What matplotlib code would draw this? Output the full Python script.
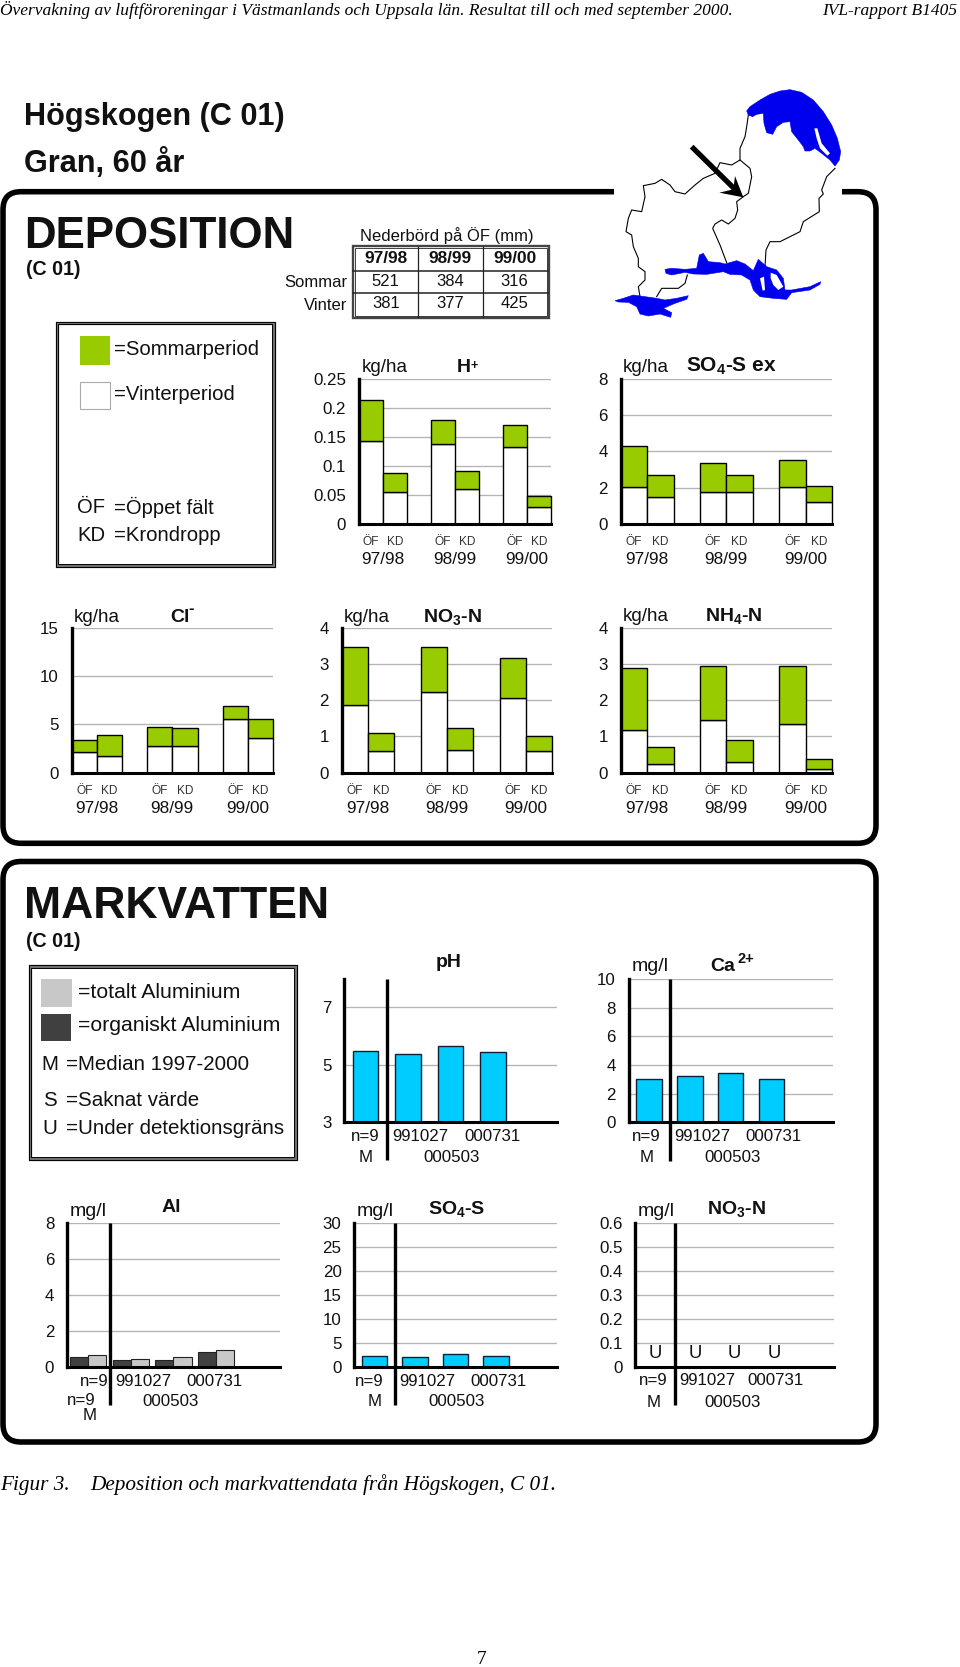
import numpy as np
import matplotlib
matplotlib.use("Agg")
from matplotlib import pyplot as plt
from matplotlib.patches import FancyBboxPatch, Rectangle, Polygon
from matplotlib.transforms import blended_transform_factory

plt.rcParams['font.family'] = ['Liberation Sans', 'DejaVu Sans']
plt.rcParams['mathtext.default'] = 'regular'

# deposition, kg/ha: OF,KD per winter
years = ['97/98', '98/99', '99/00']
h_winter = [0.143, 0.055, 0.137, 0.060, 0.132, 0.030]
h_summer = [0.071, 0.033, 0.042, 0.031, 0.038, 0.019]
so4ex_winter = [2.02, 1.50, 1.74, 1.74, 2.02, 1.23]
so4ex_summer = [2.27, 1.22, 1.60, 0.98, 1.50, 0.88]
cl_winter = [2.10, 1.76, 2.80, 2.76, 5.55, 3.59]
cl_summer = [1.28, 2.17, 1.96, 1.86, 1.35, 2.00]
no3_winter = [1.88, 0.60, 2.23, 0.63, 2.05, 0.60]
no3_summer = [1.58, 0.50, 1.23, 0.60, 1.11, 0.40]
nh4_winter = [1.17, 0.25, 1.44, 0.30, 1.35, 0.11]
nh4_summer = [1.72, 0.45, 1.49, 0.61, 1.58, 0.28]

# nederbord
prec_summer = [521, 384, 316]
prec_winter = [381, 377, 425]

# markvatten
ph_values = [5.49, 5.38, 5.66, 5.44]
ca_values = [3.00, 3.25, 3.45, 3.00]
al_org = [0.54, 0.37, 0.37, 0.81]
al_tot = [0.65, 0.46, 0.55, 0.92]
so4s_values = [2.40, 2.05, 2.75, 2.40]
no3m_flags = ['U', 'U', 'U', 'U']

GREEN = '#99CC00'
CYAN = '#00CCFF'
BLUE = '#0000EE'
GRID = '#b4b4b4'

fig = plt.figure(figsize=(9.6, 16.67), dpi=100)

# the whole page in pixels, y downwards
page = fig.add_axes([0, 0, 1, 1])
page.set_xlim(0, 960)
page.set_ylim(1667, 0)
page.axis('off')


def add_panel(x0, x1, ytop, y0, xmax, ymin, ymax, ticks, ticklabels):
    ax = fig.add_axes([x0 / 960, 1 - y0 / 1667, (x1 - x0) / 960, (y0 - ytop) / 1667])
    ax.patch.set_alpha(0)
    ax.set_xlim(0, xmax)
    ax.set_ylim(ymin, ymax)
    ax.set_xticks([])
    ax.set_yticks(ticks)
    ax.set_yticklabels(ticklabels, fontsize=12.2, color='#111111')
    ax.tick_params(axis='y', length=0, pad=9.2)
    ax.grid(axis='y', color=GRID, lw=0.95)
    ax.set_axisbelow(True)
    for s in ['top', 'right']:
        ax.spines[s].set_visible(False)
    ax.spines['left'].set_linewidth(2.4)
    ax.spines['bottom'].set_linewidth(2.2)
    ax.spines['left'].set_zorder(5)
    ax.spines['bottom'].set_zorder(5)
    return ax


def deposition(x0, x1, ytop, y0, ymax, ticks, ticklabels, winter, summer, title, title_x, base, title_size=14):
    ax = add_panel(x0, x1, ytop, y0, 8, 0, ymax, ticks, ticklabels)
    x = np.array([0.5, 1.5, 3.5, 4.5, 6.5, 7.5])
    ax.bar(x, winter, 1, color='white', edgecolor='black', lw=1.0, zorder=3, clip_on=False)
    ax.bar(x, summer, 1, bottom=winter, color=GREEN, edgecolor='black', lw=1.0, zorder=3, clip_on=False)
    tr = blended_transform_factory(ax.transData, page.transData)
    for i in range(3):
        ax.text(x[2 * i], y0 + 18, 'ÖF', transform=tr, ha='center', va='center', fontsize=8.6, color='#333333')
        ax.text(x[2 * i + 1], y0 + 18, 'KD', transform=tr, ha='center', va='center', fontsize=8.6, color='#333333')
        ax.text(3 * i + 1, y0 + 35.5, years[i], transform=tr, ha='center', va='center', fontsize=12.4, color='#111111')
    page.text(x0 + 2.5, base, 'kg/ha', fontsize=13.6, va='baseline', color='#111111')
    page.text(title_x, base, title, fontsize=title_size, fontweight='bold', va='baseline', color='#111111')
    return ax


def markvatten(x0, x1, ytop, y0, ymin, ymax, ticks, ticklabels, title, title_x, title_base,
               unit, lab_x, row1, row2, line_end):
    ax = add_panel(x0, x1, ytop, y0, 5, ymin, ymax, ticks, ticklabels)
    tr = blended_transform_factory(ax.transData, page.transData)
    ax.plot([1, 1], [ytop, line_end], transform=tr, color='black', lw=2.4, clip_on=False, zorder=4,
            solid_capstyle='butt')
    if unit:
        page.text(x0 + 2.5, y0 - 151.5, unit, fontsize=14, va='baseline', color='#111111')
    page.text(title_x, title_base, title, fontsize=14, fontweight='bold', va='baseline', color='#111111')
    ax.text(lab_x[0], row1, 'n=9', transform=tr, ha='center', va='center', fontsize=12.2, color='#111111')
    ax.text(lab_x[1], row2, 'M', transform=tr, ha='center', va='center', fontsize=12.2, color='#111111')
    ax.text(lab_x[2], row1, '991027', transform=tr, ha='center', va='center', fontsize=12.2, color='#111111')
    ax.text(lab_x[3], row2, '000503', transform=tr, ha='center', va='center', fontsize=12.2, color='#111111')
    ax.text(lab_x[4], row1, '000731', transform=tr, ha='center', va='center', fontsize=12.2, color='#111111')
    return ax


# ------------- page text -------------
page.text(0, 15, 'Övervakning av luftföroreningar i Västmanlands och Uppsala län. Resultat till och med september 2000.',
          family='Liberation Serif', style='italic', fontsize=12.47, va='baseline')
page.text(957, 15, 'IVL-rapport B1405', family='Liberation Serif', style='italic', fontsize=12.47, ha='right', va='baseline')
page.text(23.5, 125, 'Högskogen (C 01)', fontsize=22.1, fontweight='bold', va='baseline', color='#111111')
page.text(23.5, 171.5, 'Gran, 60 år', fontsize=22.1, fontweight='bold', va='baseline', color='#111111')
page.text(0, 1490, 'Figur 3.', family='Liberation Serif', style='italic', fontsize=15.28, va='baseline')
page.text(90.5, 1490, 'Deposition och markvattendata från Högskogen, C 01.', family='Liberation Serif', style='italic',
          fontsize=15.28, va='baseline')
page.text(481.5, 1664, '7', family='Liberation Serif', fontsize=14, ha='center', va='baseline')

# ------------- frames -------------
for top, bottom in [(191.7, 843.3), (861.5, 1442)]:
    page.add_patch(FancyBboxPatch((3, top), 873, bottom - top, boxstyle='round,pad=0,rounding_size=18',
                                  fc='none', ec='black', lw=4.0))
page.add_patch(Rectangle((614, 184), 228, 15, fc='white', ec='none', zorder=2))

page.text(24.5, 247.5, 'DEPOSITION', fontsize=31.6, fontweight='bold', va='baseline', color='#111111')
page.text(25.5, 275, '(C 01)', fontsize=14.2, fontweight='bold', va='baseline', color='#111111')
page.text(24, 918, 'MARKVATTEN', fontsize=32, fontweight='bold', va='baseline', color='#111111', zorder=3)
page.text(25.5, 947, '(C 01)', fontsize=14.2, fontweight='bold', va='baseline', color='#111111')

# ------------- precipitation table -------------
page.text(359.5, 240.7, 'Nederbörd på ÖF (mm)', fontsize=12, va='baseline', color='#111111')
page.add_patch(Rectangle((352.5, 246), 196, 72, fc='white', ec='#444444', lw=1.7))
page.add_patch(Rectangle((354.5, 248), 192, 68, fc='none', ec='#222222', lw=0.6))
for xl in [418.3, 482.5]:
    page.plot([xl, xl], [247, 317], color='#222222', lw=0.9)
for yl in [270.7, 293.3]:
    page.plot([353, 548], [yl, yl], color='#222222', lw=1.1)
for i, xc in enumerate([385.8, 450.2, 514.5]):
    page.text(xc, 258.5, years[i], fontsize=12.4, fontweight='bold', ha='center', va='center', color='#111111')
    page.text(xc, 281, str(prec_summer[i]), fontsize=12, ha='center', va='center', color='#111111')
    page.text(xc, 303, str(prec_winter[i]), fontsize=12, ha='center', va='center', color='#111111')
page.text(347, 282.5, 'Sommar', fontsize=12, ha='right', va='center', color='#111111')
page.text(347, 305.5, 'Vinter', fontsize=12, ha='right', va='center', color='#111111')

# ------------- legend boxes -------------
for bx, by, bw, bh in [(56.5, 322.5, 217, 243), (29.5, 966, 266, 193)]:
    page.add_patch(Rectangle((bx, by), bw, bh, fc='white', ec='#707070', lw=2.4))
    page.add_patch(Rectangle((bx - 1, by - 1), bw + 2, bh + 2, fc='none', ec='black', lw=0.7))
    page.add_patch(Rectangle((bx + 1.8, by + 1.8), bw - 3.6, bh - 3.6, fc='none', ec='black', lw=0.7))
page.add_patch(Rectangle((80, 336), 30, 28.5, fc=GREEN, ec='none'))
page.add_patch(Rectangle((80, 382), 29.5, 27, fc='white', ec='#aaaaaa', lw=0.8))
page.text(114, 349, '=Sommarperiod', fontsize=14.6, va='center', color='#111111')
page.text(114, 394, '=Vinterperiod', fontsize=14.6, va='center', color='#111111')
page.text(77, 507, 'ÖF', fontsize=14.6, va='center', color='#111111')
page.text(114, 507, '=Öppet fält', fontsize=14.6, va='center', color='#111111')
page.text(77, 535, 'KD', fontsize=14.6, va='center', color='#111111')
page.text(114, 535, '=Krondropp', fontsize=14.6, va='center', color='#111111')

page.add_patch(Rectangle((41.3, 979.3), 30.4, 28, fc='#C8C8C8', ec='none'))
page.add_patch(Rectangle((41.3, 1014.3), 30, 26.7, fc='#404040', ec='none'))
page.text(78.5, 992.7, '=totalt Aluminium', fontsize=15.3, va='center', color='#111111')
page.text(78.5, 1025.7, '=organiskt Aluminium', fontsize=15.3, va='center', color='#111111')
for key, txt, yy in [('M', '=Median 1997-2000', 1064), ('S', '=Saknat värde', 1100.7),
                     ('U', '=Under detektionsgräns', 1128)]:
    page.text(49.5, yy, key, fontsize=14.8, ha='center', va='center', color='#111111')
    page.text(66, yy, txt, fontsize=14.8, va='center', color='#111111')

# ------------- deposition charts -------------
deposition(359, 551, 378.7, 524, 0.25, [0, 0.05, 0.1, 0.15, 0.2, 0.25], ['0', '0.05', '0.1', '0.15', '0.2', '0.25'],
           h_winter, h_summer, 'H', 457, 372)
page.text(470.5, 369, '+', fontsize=9, fontweight='bold', va='baseline', color='#111111')
deposition(620.7, 832, 378.7, 524, 8, [0, 2, 4, 6, 8], ['0', '2', '4', '6', '8'],
           so4ex_winter, so4ex_summer, 'SO$_4$-S ex', 686.5, 371.5, title_size=15)
deposition(71.7, 273, 627.7, 772.7, 15, [0, 5, 10, 15], ['0', '5', '10', '15'],
           cl_winter, cl_summer, 'Cl', 170, 621.5)
page.text(188, 612.5, '-', fontsize=12, fontweight='bold', va='baseline', color='#111111')
deposition(341.7, 552.3, 627.7, 772.7, 4, [0, 1, 2, 3, 4], ['0', '1', '2', '3', '4'],
           no3_winter, no3_summer, 'NO$_3$-N', 423.3, 621.5)
deposition(620.7, 832, 627.7, 772.7, 4, [0, 1, 2, 3, 4], ['0', '1', '2', '3', '4'],
           nh4_winter, nh4_summer, 'NH$_4$-N', 705, 621)

# ------------- markvatten charts -------------
xb = np.array([0.5, 1.5, 2.5, 3.5])

ax = markvatten(344.3, 556.7, 978.7, 1122, 3, 8, [3, 5, 7], ['3', '5', '7'], 'pH', 436, 967.3, None,
                [0.5, 0.5, 1.78, 2.52, 3.5], 1136.7, 1157.3, 1160)
ax.bar(xb, np.array(ph_values) - 3, 0.6, bottom=3, color=CYAN, edgecolor='#102030', lw=1.0, zorder=3)

ax = markvatten(628.7, 832.7, 979.3, 1122.3, 0, 10, [0, 2, 4, 6, 8, 10], ['0', '2', '4', '6', '8', '10'],
                'Ca', 710.7, 971, 'mg/l', [0.43, 0.45, 1.81, 2.55, 3.55], 1136.7, 1157.3, 1160.7)
page.text(737, 963, '2+', fontsize=10.5, fontweight='bold', va='baseline', color='#111111')
ax.bar(xb, ca_values, 0.62, color=CYAN, edgecolor='#102030', lw=1.0, zorder=3)

ax = markvatten(67, 280, 1222.7, 1367, 0, 8, [0, 2, 4, 6, 8], ['0', '2', '4', '6', '8'],
                'Al', 162, 1211.7, 'mg/l', [0.64, 0.54, 1.79, 2.44, 3.46], 1381, 1415.7, 1405)
ax.bar(xb - 0.21, al_org, 0.43, color='#404040', edgecolor='#222222', lw=0.8, zorder=3)
ax.bar(xb + 0.21, al_tot, 0.43, color='#C8C8C8', edgecolor='#222222', lw=0.8, zorder=3)
# the Al chart has the 000503 label one row up from M, and a stray n=9
tr = blended_transform_factory(ax.transData, page.transData)
ax.texts[3].set_y(1401.5)
ax.text(0.34, 1400, 'n=9', transform=tr, ha='center', va='center', fontsize=12.2, color='#111111')

ax = markvatten(354.3, 556.7, 1223.3, 1367, 0, 30, [0, 5, 10, 15, 20, 25, 30], ['0', '5', '10', '15', '20', '25', '30'],
                'SO$_4$-S', 427.7, 1214.3, 'mg/l', [0.36, 0.5, 1.8, 2.53, 3.57], 1381, 1401, 1405)
ax.bar(xb, so4s_values, 0.62, color=CYAN, edgecolor='#102030', lw=1.0, zorder=3)

ax = markvatten(635.3, 834, 1223.3, 1367, 0, 0.6, [0, 0.1, 0.2, 0.3, 0.4, 0.5, 0.6],
                ['0', '0.1', '0.2', '0.3', '0.4', '0.5', '0.6'],
                'NO$_3$-N', 707.3, 1214, 'mg/l', [0.44, 0.45, 1.8, 2.45, 3.54], 1380.7, 1402, 1405)
for xp, flag in zip(xb, no3m_flags):
    ax.text(xp, 0.055, flag, ha='center', va='center', fontsize=13.3, color='#111111', zorder=4)

# ------------- map -------------
def m(pts, ox=600, oy=70):
    a = np.array(pts, dtype=float)
    return np.column_stack((a[:, 0] / 3 + ox, a[:, 1] / 3 + oy))


borders = [
    [(445, 135), (440, 170), (435, 200), (420, 235), (420, 270), (395, 285), (360, 278), (345, 310), (310, 325),
     (285, 345), (255, 372), (225, 365), (210, 345), (185, 328), (165, 340), (130, 347), (135, 380), (125, 425),
     (95, 420), (85, 445), (78, 485), (95, 495), (100, 530), (115, 565), (115, 590), (135, 605), (135, 630),
     (115, 650), (120, 680)],
    [(420, 270), (450, 295), (455, 320), (445, 370), (430, 380), (410, 395), (413, 420), (405, 445), (385, 462),
     (365, 450), (345, 462), (338, 475), (360, 525), (380, 578)],
    [(705, 295), (680, 320), (665, 360), (670, 372), (657, 385), (658, 425), (610, 455), (600, 485), (570, 500),
     (540, 515), (510, 515), (498, 540), (495, 590)],
    [(170, 680), (185, 655), (235, 655), (255, 640), (262, 615)],
]
for b in borders:
    p = m(b)
    page.plot(p[:, 0], p[:, 1], color='black', lw=0.8, zorder=4)

north = [(20, 78), (30, 65), (60, 45), (90, 28), (120, 18), (150, 14), (185, 22), (220, 45), (250, 80), (275, 120),
         (292, 160), (302, 200), (298, 225), (285, 243), (270, 225), (245, 205), (225, 190), (210, 198), (195, 198),
         (190, 185), (175, 165), (155, 140), (150, 110), (130, 112), (110, 125), (98, 148), (80, 143), (72, 115),
         (70, 85), (50, 88), (38, 95), (25, 90)]
north_isle = [(223, 130), (232, 130), (245, 175), (270, 205), (262, 212), (240, 190), (230, 160)]
south = [(165, 88), (185, 85), (225, 88), (260, 85), (268, 45), (280, 40), (295, 65), (330, 68), (345, 72), (380, 62),
         (405, 72), (430, 92), (445, 58), (470, 80), (500, 90), (520, 115), (525, 150), (545, 150), (600, 140),
         (632, 125), (630, 133), (600, 150), (545, 158), (530, 178), (490, 175), (450, 170), (430, 150), (420, 120),
         (395, 105), (360, 103), (340, 95), (290, 103), (250, 102), (225, 97), (185, 105), (168, 100)]
south_isles = [[(450, 115), (462, 110), (465, 150), (458, 152)],
               [(482, 98), (500, 105), (520, 140), (505, 150), (490, 135), (482, 115)]]
sw = [(15, 182), (40, 175), (70, 165), (105, 170), (140, 175), (165, 180), (200, 175), (235, 167), (230, 178),
      (195, 190), (160, 205), (185, 218), (182, 232), (150, 222), (115, 228), (90, 222), (80, 200), (55, 187), (25, 186)]

page.add_patch(Polygon(m(north, 740, 85), fc=BLUE, ec=BLUE, lw=0.4, zorder=5))
page.add_patch(Polygon(m(north_isle, 740, 85), fc='white', ec='none', zorder=6))
page.add_patch(Polygon(m(south, 610, 240), fc=BLUE, ec=BLUE, lw=0.4, zorder=5))
page.add_patch(Polygon(m(sw, 610, 240), fc=BLUE, ec=BLUE, lw=0.4, zorder=5))
for isl in south_isles:
    page.add_patch(Polygon(m(isl, 610, 240), fc='white', ec='none', zorder=6))

shaft = m([(275, 230), (412, 365)])
page.plot(shaft[:, 0], shaft[:, 1], color='black', lw=3.8, zorder=7, solid_capstyle='butt')
page.add_patch(Polygon(m([(405, 318), (430, 382), (358, 368), (400, 358)]), fc='black', ec='none', zorder=7))

fig.savefig('out.png', dpi=100)
